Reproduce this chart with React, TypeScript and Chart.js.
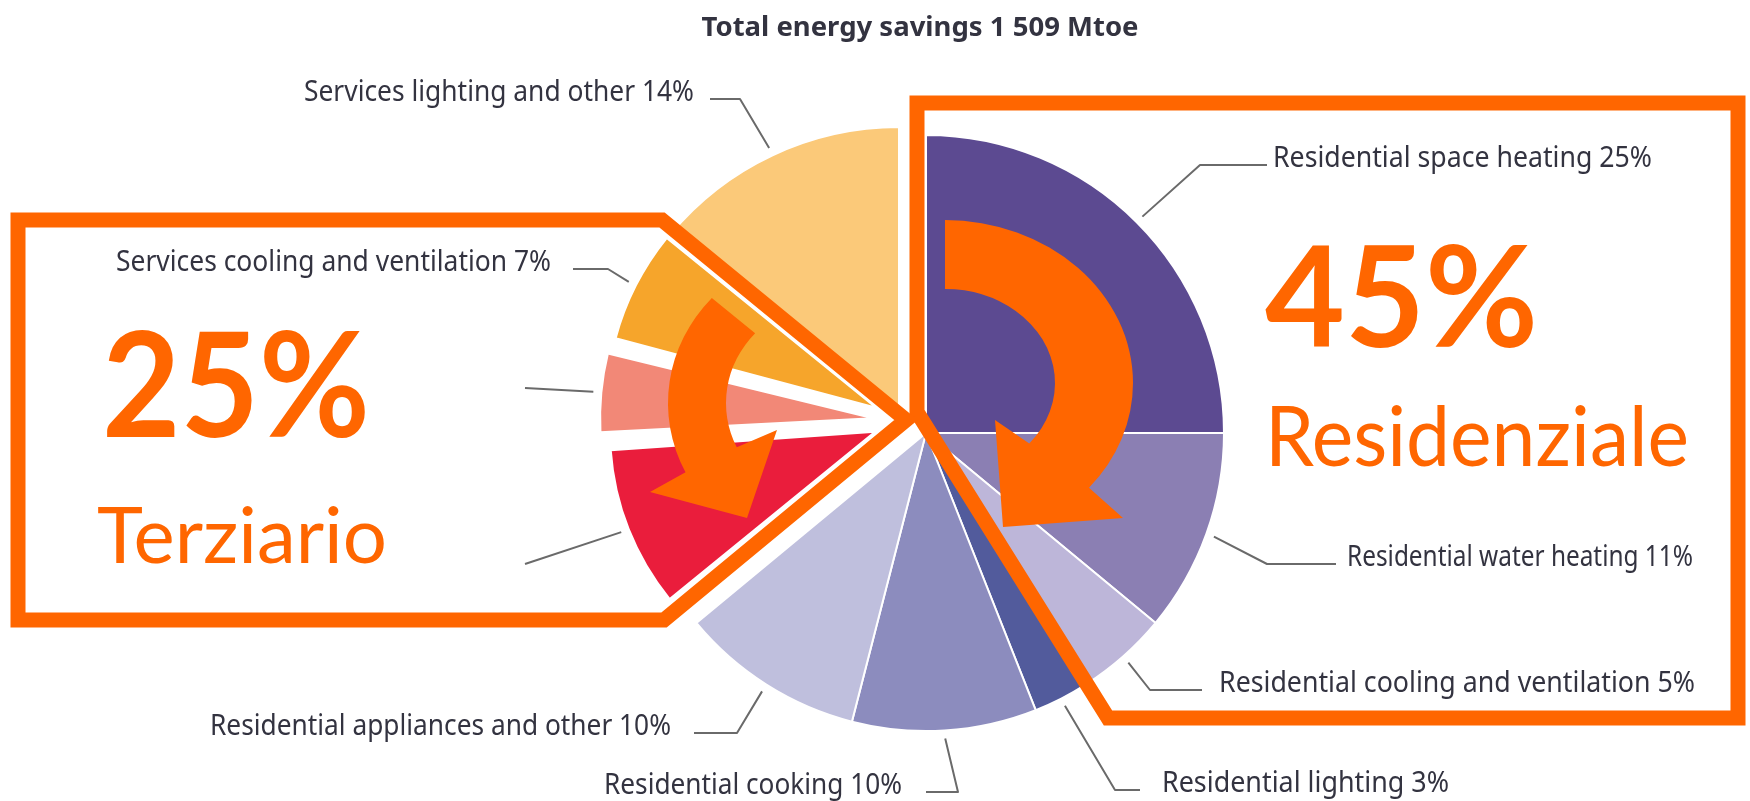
import React, { useEffect, useRef } from 'react';
import { Chart, registerables } from 'chart.js';

Chart.register(...registerables);

// ---------------- data ----------------
const categories = [
  'Residential space heating',
  'Residential water heating',
  'Residential cooling and ventilation',
  'Residential lighting',
  'Residential cooking',
  'Residential appliances and other',
  'Services space heating',
  'Services water heating',
  'Services cooling and ventilation',
  'Services lighting and other',
];
const shares = [25, 11, 5, 3, 10, 10, 10, 5, 7, 14];
const sliceColors = ['#5C4A91', '#8B7FB3', '#BDB6D9', '#525B9C', '#8C8CBE', '#BFBFDD', '#EA1D3C', '#F28877', '#F6A52B', '#FBC979'];
const showLabel = [true, true, true, true, true, true, false, false, true, true];
const titleText = 'Total energy savings 1 509 Mtoe';
const calloutValues = ['45%', '25%'];
const calloutNames = ['Residenziale', 'Terziario'];

// ---------------- layout ----------------
const W = 1750;
const H = 801;
const ORANGE = '#FF6600';
const TEXT = '#333340';

// each group is one pie chart drawing only its member slices
const pieGroups = [
  { members: [0, 1, 2, 3, 4, 5], cx: 926, cy: 433, radius: 298, explode: 0 },
  { members: [9], cx: 899, cy: 424, radius: 297, explode: 0 },
  { members: [6, 7, 8], cx: 902, cy: 421, radius: 253, explode: 29 },
];

// leader-line layout per slice index
const leaderLayout = [
  { idx: 0, elbow: [1200, 165], end: [1267, 165], textX: 1273, align: 'left', width: 379 },
  { idx: 1, elbow: [1267, 564], end: [1336, 564], textX: 1347, align: 'left', width: 346 },
  { idx: 2, elbow: [1150, 690], end: [1202, 690], textX: 1219, align: 'left', width: 476 },
  { idx: 3, elbow: [1115, 790], end: [1140, 790], textX: 1162, align: 'left', width: 287 },
  { idx: 4, elbow: [958, 792], end: [926, 792], textX: 902, align: 'right', width: 298 },
  { idx: 5, elbow: [737, 733], end: [694, 733], textX: 671, align: 'right', width: 461 },
  { idx: 6, elbow: null, end: [525, 564], textX: 0, align: 'right', width: 0 },
  { idx: 7, elbow: null, end: [525, 388], textX: 0, align: 'right', width: 0 },
  { idx: 8, elbow: [608, 269], end: [573, 269], textX: 551, align: 'right', width: 435 },
  { idx: 9, elbow: [740, 99], end: [710, 99], textX: 694, align: 'right', width: 390 },
];

const LABEL_FONT = '29px "Noto Sans"';

function groupOf(i: number) {
  return pieGroups.findIndex((g) => g.members.includes(i));
}

function drawFitted(ctx: CanvasRenderingContext2D, text: string, x: number, baseline: number, width: number, font: string, align: string, color: string) {
  ctx.save();
  ctx.font = font;
  const w = ctx.measureText(text).width || 1;
  const sx = width / w;
  let left = x;
  if (align === 'right') left = x - width;
  else if (align === 'center') left = x - width / 2;
  ctx.translate(left, baseline);
  ctx.scale(sx, 1);
  ctx.fillStyle = color;
  ctx.textAlign = 'left';
  ctx.textBaseline = 'alphabetic';
  ctx.fillText(text, 0, 0);
  ctx.restore();
}

function arcAnchor(chart: any, i: number, extra: number) {
  const el: any = chart.getDatasetMeta(0).data[i];
  const { x, y, startAngle, endAngle, outerRadius } = el.getProps(['x', 'y', 'startAngle', 'endAngle', 'outerRadius'], true);
  const off = (el.options.offset || 0) / 4;
  const c = endAngle - startAngle;
  const fix = 1 - Math.sin(Math.min(Math.PI, c));
  const mid = (startAngle + endAngle) / 2;
  const r = outerRadius + off * fix + extra;
  return [x + Math.cos(mid) * (off + r), y + Math.sin(mid) * (off + r)];
}

function makeOverlay(charts: any[]) {
  return {
    id: 'overlay',
    afterDraw(chart: any) {
      const ctx: CanvasRenderingContext2D = chart.ctx;
      const all = [...charts, chart];
      ctx.save();

      // title
      drawFitted(ctx, titleText, 920, 36, 437, 'bold 26px "Noto Sans"', 'center', TEXT);

      // leader lines + labels
      ctx.strokeStyle = '#6a6a6a';
      ctx.lineWidth = 2;
      ctx.lineJoin = 'round';
      leaderLayout.forEach((L) => {
        const owner = all[groupOf(L.idx)];
        if (!owner) return;
        const p = arcAnchor(owner, L.idx, 8);
        ctx.beginPath();
        ctx.moveTo(p[0], p[1]);
        if (L.elbow) ctx.lineTo(L.elbow[0], L.elbow[1]);
        ctx.lineTo(L.end[0], L.end[1]);
        ctx.stroke();
        if (showLabel[L.idx]) {
          drawFitted(ctx, `${categories[L.idx]} ${shares[L.idx]}%`, L.textX, L.end[1] + 2, L.width, LABEL_FONT, L.align, TEXT);
        }
      });

      // orange boxes
      ctx.strokeStyle = ORANGE;
      ctx.lineWidth = 15;
      ctx.lineJoin = 'miter';
      ctx.beginPath();
      ctx.moveTo(917, 412);
      ctx.lineTo(917, 103);
      ctx.lineTo(1738, 103);
      ctx.lineTo(1738, 718);
      ctx.lineTo(1108, 718);
      ctx.closePath();
      ctx.stroke();

      ctx.beginPath();
      ctx.moveTo(18, 220);
      ctx.lineTo(662, 220);
      ctx.lineTo(906, 420);
      ctx.lineTo(664, 620);
      ctx.lineTo(18, 620);
      ctx.closePath();
      ctx.stroke();

      // curved arrows
      const deg = Math.PI / 180;
      ctx.fillStyle = ORANGE;
      ctx.beginPath();
      ctx.ellipse(945, 383, 188, 163, 0, -90 * deg, 40 * deg, false);
      ctx.lineTo(1123, 518);
      ctx.lineTo(1003, 527);
      ctx.lineTo(995, 420);
      ctx.ellipse(945, 383, 110, 94, 0, 40 * deg, -90 * deg, true);
      ctx.closePath();
      ctx.fill();

      ctx.beginPath();
      ctx.ellipse(841, 403, 173, 158, 0, 221.7 * deg, 154 * deg, true);
      ctx.lineTo(650, 492);
      ctx.lineTo(747, 518);
      ctx.lineTo(777, 430);
      ctx.ellipse(841, 403, 115, 105, 0, 155 * deg, 221.7 * deg, false);
      ctx.closePath();
      ctx.fill();

      // big callouts
      drawFitted(ctx, calloutValues[0], 1265, 347, 273, 'bold 140px Lato', 'left', ORANGE);
      drawFitted(ctx, calloutNames[0], 1265, 466, 424, '84px Lato', 'left', ORANGE);
      drawFitted(ctx, calloutValues[1], 102, 437, 268, 'bold 145px Lato', 'left', ORANGE);
      drawFitted(ctx, calloutNames[1], 97, 563, 290, '77px Lato', 'left', ORANGE);

      ctx.restore();
    },
  };
}

function buildConfig(g: any, plugins: any[]) {
  const s = 300;
  const inGroup = (i: number) => g.members.includes(i);
  return {
    type: 'pie' as const,
    data: {
      labels: categories,
      datasets: [
        {
          data: shares,
          backgroundColor: shares.map((_, i) => (inGroup(i) ? sliceColors[i] : 'rgba(0,0,0,0)')),
          borderColor: '#ffffff',
          borderWidth: shares.map((_, i) => (inGroup(i) ? 2 : 0)),
          offset: shares.map((_, i) => (inGroup(i) ? g.explode * 4 : 0)),
          hoverOffset: 0,
          radius: g.radius,
        },
      ],
    },
    options: {
      responsive: false,
      maintainAspectRatio: false,
      animation: false as const,
      events: [],
      radius: g.radius,
      layout: {
        padding: { left: g.cx - s, right: W - g.cx - s, top: g.cy - s, bottom: H - g.cy - s },
      },
      plugins: {
        legend: { display: false },
        tooltip: { enabled: false },
        title: { display: false },
      },
    },
    plugins,
  };
}

export default function App() {
  const r0 = useRef<HTMLCanvasElement>(null);
  const r1 = useRef<HTMLCanvasElement>(null);
  const r2 = useRef<HTMLCanvasElement>(null);

  useEffect(() => {
    const refs = [r0, r1, r2];
    const charts: any[] = [];
    pieGroups.forEach((g, gi) => {
      const canvas = refs[gi].current;
      if (!canvas) return;
      const plugins = gi === pieGroups.length - 1 ? [makeOverlay(charts)] : [];
      const c = new Chart(canvas, buildConfig(g, plugins) as any);
      charts.push(c);
    });
    return () => {
      charts.forEach((c) => c.destroy());
    };
  }, []);

  const cs: React.CSSProperties = { position: 'absolute', left: 0, top: 0, width: W, height: H };
  return (
    <div style={{ position: 'fixed', left: 0, top: 0, width: W, height: H, background: '#ffffff', overflow: 'hidden' }}>
      <canvas ref={r0} width={W} height={H} style={cs} />
      <canvas ref={r1} width={W} height={H} style={cs} />
      <canvas ref={r2} width={W} height={H} style={cs} />
    </div>
  );
}
